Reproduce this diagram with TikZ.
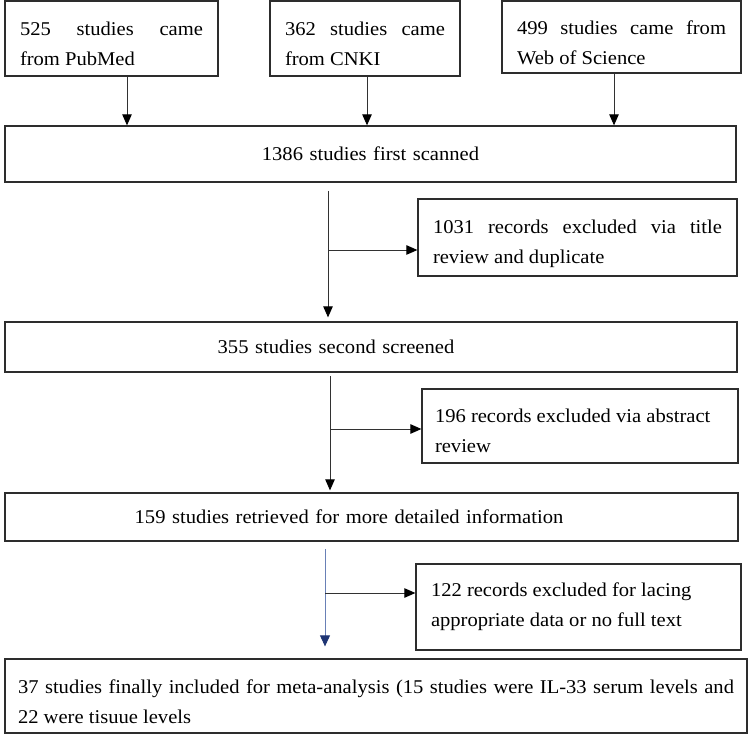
\documentclass[tikz,border=0pt]{standalone}
\usepackage{fontspec}
\setmainfont[FakeStretch=1.055]{Liberation Serif}
\usetikzlibrary{arrows.meta}
\definecolor{boxline}{RGB}{45,45,45}
\definecolor{arrline}{RGB}{50,50,50}
\definecolor{blueline}{RGB}{105,128,182}
\definecolor{bluetip}{RGB}{30,52,115}
\newcommand{\lowerby}[1]{\rule{0pt}{#1}}
\begin{document}
\begin{tikzpicture}[x=1pt,y=-1pt,
  box/.style={draw=boxline, line width=1.3pt, inner xsep=15pt, inner ysep=0pt, align=justify,
    font=\fontsize{19.5}{30}\selectfont},
  arr/.style={draw=arrline, line width=0.9pt, -{Triangle[length=11pt,width=9.5pt,color=black]}},
  bluearr/.style={draw=blueline, line width=0.9pt, -{Triangle[length=11pt,width=10pt,color=bluetip]}}]
\fill[white] (0,0) rectangle (750,735);
\useasboundingbox (0,0) rectangle (750,735);

% top source boxes
\node[box, minimum width=213pt, minimum height=75pt, text width=183pt] (b1) at (111.5,38.5)
  {\lowerby{25pt}525 studies came\linebreak from PubMed};
\node[box, minimum width=190pt, minimum height=75pt, text width=160pt] (b2) at (365,38.5)
  {\lowerby{25pt}362 studies came\linebreak from CNKI};
\node[box, minimum width=239pt, minimum height=72pt, text width=209pt] (b3) at (621.5,37)
  {\lowerby{25pt}499 studies came from\linebreak Web of Science};

% main boxes
\node[box, minimum width=731pt, minimum height=56pt, text width=701pt, align=center] (m1) at (370.5,154)
  {1386 studies first scanned};
\node[box, minimum width=732pt, minimum height=50pt, text width=702pt, align=center] (m2) at (371,347)
  {\hspace*{-70pt}355 studies second screened};
\node[box, minimum width=733pt, minimum height=48pt, text width=703pt, align=center] (m3) at (371.5,517)
  {\hspace*{-45pt}159 studies retrieved for more detailed information};
\node[box, inner xsep=13pt, minimum width=742pt, minimum height=74pt, text width=716pt] (m4) at (376,696)
  {\lowerby{26pt}37 studies finally included for meta-analysis (15 studies were IL-33 serum levels and\linebreak 22 were tisuue levels};

% side boxes
\node[box, minimum width=319pt, minimum height=77pt, text width=289pt] (s1) at (577.5,237.5)
  {\lowerby{27pt}1031 records excluded via title\linebreak review and duplicate};
\node[box, inner xsep=13pt, minimum width=316pt, minimum height=74pt, text width=290pt] (s2) at (580,426)
  {\lowerby{24pt}196 records excluded via abstract\newline review};
\node[box, minimum width=325pt, minimum height=86pt, text width=295pt] (s3) at (578.5,607)
  {122 records excluded for lacing\newline appropriate data or no full text};

% coordinates for connector positions
\coordinate (x1) at (127,0);
\coordinate (x2) at (367,0);
\coordinate (x3) at (614,0);
\coordinate (v1) at (328,191);
\coordinate (h1) at (328,250);
\coordinate (v2) at (330,376);
\coordinate (h2) at (330,429);
\coordinate (v3) at (325,549);
\coordinate (h3) at (325,593);

% top arrows
\draw[arr] (b1.south -| x1) -- (m1.north -| x1);
\draw[arr] (b2.south -| x2) -- (m1.north -| x2);
\draw[arr] (b3.south -| x3) -- (m1.north -| x3);

% flow arrows
\draw[arr, shorten >=4pt] (v1) -- (m2.north -| v1);
\draw[arr] (h1) -- (s1.west |- h1);
\draw[arr, shorten >=2pt] (v2) -- (m3.north -| v2);
\draw[arr] (h2) -- (s2.west |- h2);
\draw[bluearr, shorten >=12pt] (v3) -- (m4.north -| v3);
\draw[arr] (h3) -- (s3.west |- h3);
\end{tikzpicture}
\end{document}
